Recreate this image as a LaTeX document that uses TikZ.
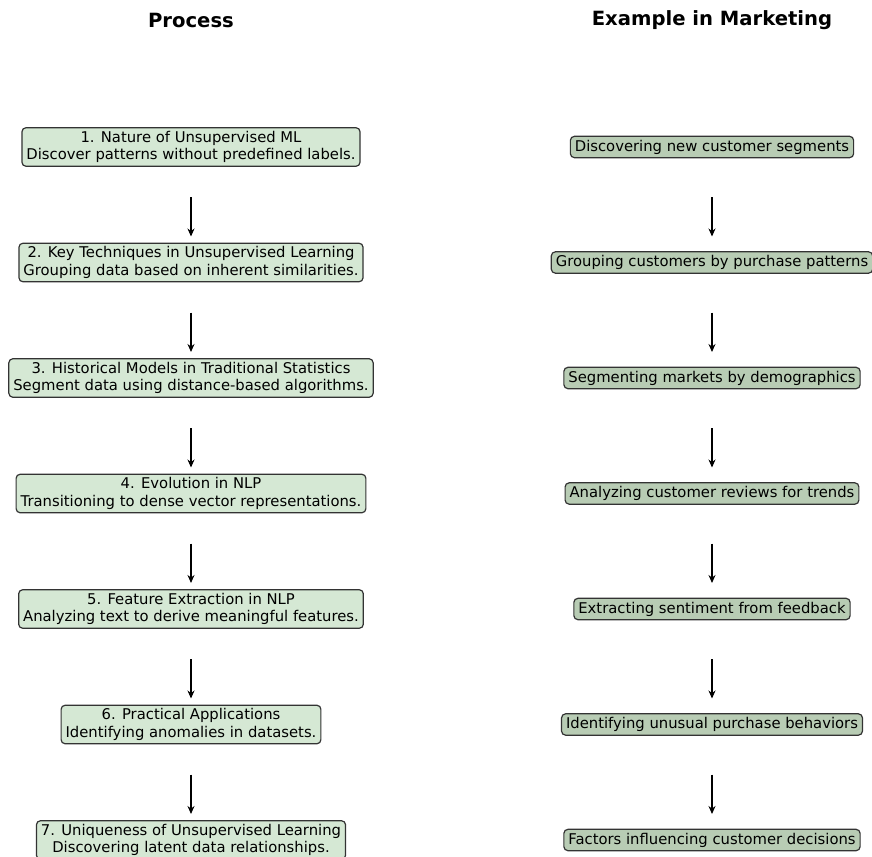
\documentclass[tikz,border=0pt]{standalone}
\usepackage{fontspec}
\setmainfont{DejaVu Sans}
\usetikzlibrary{arrows.meta}
\definecolor{procfill}{HTML}{D5E8D4}
\definecolor{examfill}{HTML}{B8CCB4}
\definecolor{edgecol}{HTML}{333333}
\tikzset{
  base/.style={draw=edgecol, line width=1.2pt, rounded corners=4pt,
    inner xsep=4.5pt, inner ysep=3.5pt, align=center, text=black,
    font=\fontsize{14.8pt}{17.2pt}\selectfont},
  procbox/.style={base, fill=procfill},
  exambox/.style={base, fill=examfill},
  heading/.style={font=\fontsize{19.6pt}{22pt}\selectfont\bfseries},
  flow/.style={line width=1.5pt, -{Stealth[length=8pt,width=7pt]}}
}
\begin{document}
\begin{tikzpicture}[x=1pt, y=-1pt]
\useasboundingbox (0,0) rectangle (872,856);

\node[heading] (h1) at (191,20) {Process};
\node[heading] (h2) at (712,20) {Example in Marketing};

% process column
\node[procbox] (p1) at (191,147) {1. Nature of Unsupervised ML\\Discover patterns without predefined labels.};
\node[procbox] (p2) at (191,262.5) {2. Key Techniques in Unsupervised Learning\\Grouping data based on inherent similarities.};
\node[procbox] (p3) at (191,378) {3. Historical Models in Traditional Statistics\\Segment data using distance-based algorithms.};
\node[procbox] (p4) at (191,493.5) {4. Evolution in NLP\\Transitioning to dense vector representations.};
\node[procbox] (p5) at (191,609) {5. Feature Extraction in NLP\\Analyzing text to derive meaningful features.};
\node[procbox] (p6) at (191,724.5) {6. Practical Applications\\Identifying anomalies in datasets.};
\node[procbox] (p7) at (191,840) {7. Uniqueness of Unsupervised Learning\\Discovering latent data relationships.};

% marketing column
\node[exambox] (m1) at (712,147) {Discovering new customer segments};
\node[exambox] (m2) at (712,262.5) {Grouping customers by purchase patterns};
\node[exambox] (m3) at (712,378) {Segmenting markets by demographics};
\node[exambox] (m4) at (712,493.5) {Analyzing customer reviews for trends};
\node[exambox] (m5) at (712,609) {Extracting sentiment from feedback};
\node[exambox] (m6) at (712,724.5) {Identifying unusual purchase behaviors};
\node[exambox] (m7) at (712,840) {Factors influencing customer decisions};

\foreach \a/\b in {1/2,2/3,3/4,4/5,5/6,6/7}{
  \draw[flow] ([yshift=-50pt]p\a.center) -- ([yshift=26pt]p\b.center);
  \draw[flow] ([yshift=-50pt]m\a.center) -- ([yshift=26pt]m\b.center);
}
\end{tikzpicture}
\end{document}
